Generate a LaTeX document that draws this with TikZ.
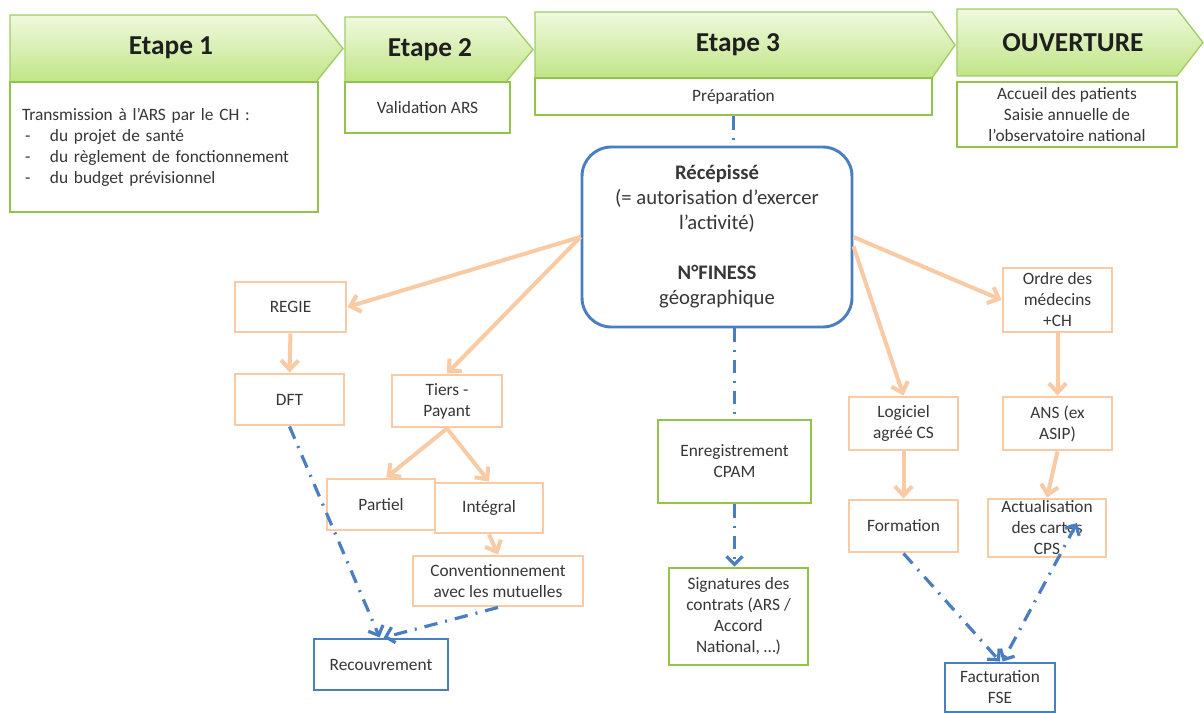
\documentclass[tikz,border=0pt]{standalone}
\usepackage{fontspec}
\setmainfont{Carlito}
\usetikzlibrary{arrows.meta,calc}
\definecolor{txt}{RGB}{55,55,55}
\definecolor{grn}{RGB}{146,196,74}
\definecolor{chevline}{RGB}{160,205,100}
\definecolor{chevtop}{RGB}{240,249,222}
\definecolor{chevbot}{RGB}{192,229,134}
\definecolor{org}{RGB}{249,202,164}
\definecolor{blu}{RGB}{74,126,194}
\newcommand\mybox[7]{\node[#6, minimum width={(#4-#2)*0.75pt}, minimum height={(#5-#3)*0.75pt}, inner sep=0pt] (#1) at ({(#2+#4)/2},{(#3+#5)/2}) {#7};}
\newcommand\mydash{\makebox[21pt][l]{\hspace{2.25pt}-}}
\begin{document}
\begin{tikzpicture}[x=0.75pt,y=-0.75pt,
  every node/.style={text=txt},
  sm/.style={font=\fontsize{13}{15.75}\selectfont, align=center},
  greenbox/.style={sm, draw=grn, line width=2pt, fill=white},
  orgbox/.style={sm, draw=org, line width=2.2pt, fill=white},
  bluebox/.style={sm, draw=blu, line width=2.2pt, fill=white},
  hdr/.style={font=\fontsize{20.5}{24}\selectfont\bfseries, text=black!88},
  chev/.style={draw=chevline, line width=1pt, top color=chevtop, bottom color=chevbot},
  oarrow/.style={draw=org, line width=3pt, -{Straight Barb[length=7pt,width=13pt]}},
  bline/.style={draw=blu, line width=2.4pt, dash pattern=on 10pt off 6pt on 1.5pt off 6pt},
  barrow/.style={bline, -{Straight Barb[length=6pt,width=12pt]}},
  bboth/.style={bline, {Straight Barb[length=6pt,width=12pt]}-{Straight Barb[length=6pt,width=12pt]}},
]
\useasboundingbox (0,0) rectangle (1204,713);
\fill[white] (0,0) rectangle (1204,713);

% chevrons
\shade[chev] (10,15) -- (316,15) -- (343,48.5) -- (316,82) -- (10,82) -- cycle;
\shade[chev] (345,17) -- (506,17) -- (533,49.5) -- (506,82) -- (345,82) -- cycle;
\shade[chev] (535,12) -- (932,12) -- (955,45) -- (932,78) -- (535,78) -- cycle;
\shade[chev] (957,9) -- (1177,9) -- (1203,42.5) -- (1177,76) -- (957,76) -- cycle;
\node[hdr] (h1) at (171,48) {Etape 1};
\node[hdr] (h2) at (430,50) {Etape 2};
\node[hdr] (h3) at (738,45) {Etape 3};
\node[hdr] (h4) at (1073,43) {OUVERTURE};

% boxes under chevrons
\mybox{b1}{10}{82}{318}{212}{greenbox, text width=213pt, align=left}{Transmission à l’ARS par le CH :\\\mydash du projet de santé\\\mydash du règlement de fonctionnement\\\mydash du budget prévisionnel}
\mybox{b2}{345}{82}{510}{133}{greenbox}{Validation ARS}
\mybox{b3}{535}{78}{932}{115}{greenbox}{Préparation}
\mybox{b4}{957}{82}{1177}{147}{greenbox}{Accueil des patients\\Saisie annuelle de\\l’observatoire national}

% central node
\mybox{rec}{582}{147}{852}{327}{bluebox, rounded corners=22pt, font=\fontsize{15.5}{18.75}\selectfont}{\textbf{Récépissé}\\(= autorisation d’exercer\\l’activité)\\\mbox{}\\\textbf{N°FINESS}\\géographique}

% left branch
\mybox{regie}{235}{282}{346}{332}{orgbox}{REGIE}
\mybox{dft}{235}{374}{344}{425}{orgbox}{DFT}
\mybox{tiers}{392}{375}{502}{427}{orgbox}{Tiers -\\Payant}
\mybox{partiel}{327}{479}{435}{530}{orgbox}{Partiel}
\mybox{integral}{435}{483}{543}{533}{orgbox}{Intégral}
\mybox{conv}{413}{556}{583}{606}{orgbox}{Conventionnement\\avec les mutuelles}
\mybox{recouv}{314}{639}{448}{690}{bluebox}{Recouvrement}

% middle branch
\mybox{enr}{658}{420}{811}{503}{greenbox}{Enregistrement\\CPAM}
\mybox{sig}{669}{568}{808}{665}{greenbox}{Signatures des\\contrats (ARS /\\Accord\\National, …)}

% right branch
\mybox{log}{849}{397}{958}{450}{orgbox}{Logiciel\\agréé CS}
\mybox{form}{849}{500}{958}{552}{orgbox}{Formation}
\mybox{ordre}{1003}{268}{1112}{332}{orgbox}{Ordre des\\médecins\\+CH}
\mybox{ans}{1003}{397}{1112}{450}{orgbox}{ANS (ex\\ASIP)}
\mybox{act}{988}{499}{1106}{557}{orgbox}{Actualisation\\des cartes\\CPS}
\mybox{fact}{945}{663}{1055}{712}{bluebox}{Facturation\\FSE}

% orange arrows
\draw[oarrow] (rec.west) -- (regie.east);
\draw[oarrow] (rec.west) -- (tiers.north);
\draw[oarrow] (regie.south) -- (dft.north);
\draw[oarrow] (tiers.south) -- ([xshift=4pt]partiel.north);
\draw[oarrow] (tiers.south) -- (integral.north);
\draw[oarrow] (integral.south) -- (conv.north);
\draw[oarrow] (rec.east) -- (ordre.west);
\draw[oarrow] ([yshift=-7pt]rec.east) -- (log.north);
\draw[oarrow] (ordre.south) -- (ans.north);
\draw[oarrow] (log.south) -- (form.north);
\draw[oarrow] (ans.south) -- (act.north);

% blue dash-dot connectors
\draw[bline] (b3.south) -- (b3.south |- rec.north);
\draw[bline] (enr.north |- rec.south) -- (enr.north);
\draw[barrow] (enr.south) -- (enr.south |- sig.north);
\draw[barrow] (dft.south) -- ([xshift=-1pt]recouv.north);
\draw[barrow] (conv.south) -- ([xshift=2pt]recouv.north);
\draw[barrow] (form.south) -- (fact.north);
\coordinate (actpt) at (1077,523);
\draw[bboth] (actpt) -- ([xshift=2pt]fact.north);
\end{tikzpicture}
\end{document}
